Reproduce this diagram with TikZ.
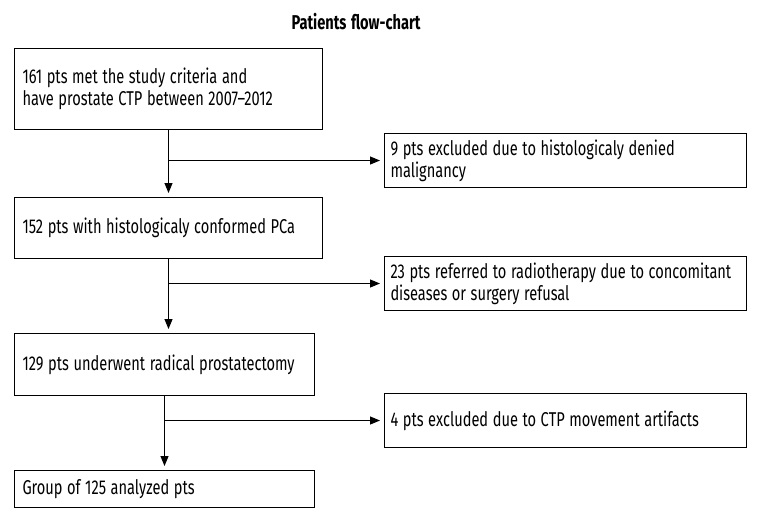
\documentclass[tikz,border=0pt]{standalone}
\usepackage{fontspec}
\setmainfont{Fira Sans}[FakeStretch=0.73]
\usetikzlibrary{arrows.meta}
\newcommand\flowfont{\fontsize{20}{22}\selectfont}
\newcommand\flowspaces{\spaceskip=4.6pt\relax\xspaceskip=4.6pt\relax\hyphenpenalty=10000\relax}
\tikzset{
  stage/.style={draw, line width=1pt, anchor=north west, inner xsep=8pt,
    align=left, font=\flowfont, execute at begin node=\flowspaces},
  excluded/.style={stage, inner xsep=6pt, text width=350pt, minimum height=54pt},
  flow/.style={line width=1pt, shorten >=4pt, -{Triangle[length=10pt,width=8pt]}}
}
\begin{document}
\begin{tikzpicture}[x=1pt,y=-1pt]
   \useasboundingbox (0,0) rectangle (760,520);

   \node[font=\bfseries\flowfont, execute at begin node=\flowspaces] (title) at (356,22) {Patients flow-chart};

   % main column
   \node[stage, text width=292pt, minimum height=81pt] (box1) at (14,48)
     {161 pts met the study criteria and\\have prostate CTP between 2007--2012};
   \node[stage, text width=292pt, minimum height=61pt] (box2) at (14,197)
     {152 pts with histologicaly conformed PCa};
   \node[stage, text width=284pt, minimum height=62pt] (box3) at (14,333)
     {129 pts underwent radical prostatectomy};
   \node[stage, text width=284pt, minimum height=37pt] (box4) at (14,470)
     {Group of 125 analyzed pts};

   % excluded
   \node[excluded] (side1) at (384,133)
     {9 pts excluded due to histologicaly denied\\malignancy};
   \node[excluded] (side2) at (384,256)
     {23 pts referred to radiotherapy due to concomitant\\diseases or surgery refusal};
   \node[excluded] (side3) at (384,393)
     {4 pts excluded due to CTP movement artifacts};

   \draw[flow] (box1.south) -- (box2.north);
   \draw[flow] (box2.south) -- (box2.south |- box3.north);
   \draw[flow] (box3.south) -- (box3.south |- box4.north);

   \coordinate (fork1) at (box1.south |- side1.west);
   \coordinate (fork2) at (box2.south |- side2.west);
   \coordinate (fork3) at (box3.south |- side3.west);
   \draw[flow] (fork1) -- (side1.west);
   \draw[flow] (fork2) -- (side2.west);
   \draw[flow] (fork3) -- (side3.west);
 \end{tikzpicture}
\end{document}
